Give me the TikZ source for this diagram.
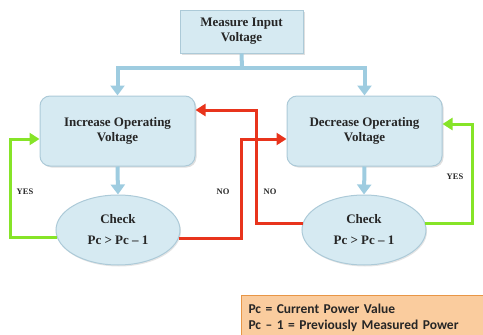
\documentclass[tikz,border=0pt]{standalone}
\usepackage{fontspec}
\setmainfont{Liberation Serif}
\newfontfamily\legendfont{Carlito}
\usepackage{tikz}
\usetikzlibrary{arrows.meta,shadows,shapes.geometric}

\definecolor{boxfill}{RGB}{214,234,242}
\definecolor{boxline}{RGB}{172,202,216}
\definecolor{flowblue}{RGB}{158,204,224}
\definecolor{nored}{RGB}{232,52,28}
\definecolor{yesgreen}{RGB}{134,228,40}
\definecolor{keyfill}{RGB}{250,204,158}
\definecolor{keyline}{RGB}{232,150,70}

\begin{document}
\begin{tikzpicture}[x=1pt, y=-1pt,
  every node/.style={font=\fontsize{13}{15}\selectfont\bfseries, text=black!85},
  stepbox/.style={draw=boxline, fill=boxfill, line width=1pt, align=center,
    drop shadow={shadow xshift=1.5pt, shadow yshift=-1.5pt, fill=black!25}},
  checkbox/.style={ellipse, draw=boxline, fill=boxfill, line width=1pt, align=center,
    minimum width=124pt, minimum height=70pt, inner sep=0pt,
    drop shadow={shadow xshift=1pt, shadow yshift=-1.5pt, fill=black!20}},
  flow/.style={draw=flowblue, line width=4pt},
  flowarr/.style={flow, -{Triangle[width=14pt, length=10pt]}},
  noarr/.style={draw=nored, line width=3pt, -{Triangle[width=12pt, length=10pt]}},
  yesarr/.style={draw=yesgreen, line width=3pt, -{Triangle[width=12pt, length=10pt]}},
  lbl/.style={font=\fontsize{8.5}{10}\selectfont\bfseries}]
  \useasboundingbox (0,0) rectangle (483,335);

  % 1) Boxes
  \node[stepbox, minimum width=123pt, minimum height=43pt] (measure) at (241.5,31.5) {Measure Input\\Voltage};
  \node[stepbox, rounded corners=10pt, minimum width=155pt, minimum height=70pt] (incr) at (117.5,131) {Increase Operating\\Voltage};
  \node[stepbox, rounded corners=10pt, minimum width=155pt, minimum height=70pt] (decr) at (364.5,131) {Decrease Operating\\Voltage};
  \node[checkbox] (chkinc) at (118,230) {Check\\[6pt]Pc > Pc – 1};
  \node[checkbox] (chkdec) at (364,230) {Check\\[6pt]Pc > Pc – 1};

  % 2) Blue flow
  \coordinate (split) at (242,68);
  \draw[flow] (measure.south) -- (split);
  \draw[flowarr] (split) -| (incr.north);
  \draw[flowarr] (split) -| (decr.north);
  \draw[flowarr] (incr.south) -- (chkinc.north);
  \draw[flowarr] (decr.south) -- (chkdec.north);

  % 3) Yes / no loops
  \coordinate (gl) at (10,139);
  \coordinate (r1) at (241,139);
  \coordinate (r2) at (256,110);
  \coordinate (gr) at (472,124);
  \draw[yesarr] (chkinc.187) -| (gl) -- (gl -| incr.west);
  \draw[noarr] (chkinc.-8) -| (r1) -- (r1 -| decr.west);
  \draw[noarr] (chkdec.174) -| (r2) -- (r2 -| incr.east);
  \draw[yesarr] (chkdec.6) -| (gr) -- (gr -| decr.east);

  \node[lbl] (yesl) at (25,192) {YES};
  \node[lbl] (nol) at (223,192) {NO};
  \node[lbl] (nor) at (270,192) {NO};
  \node[lbl] (yesr) at (455,177) {YES};

  % 4) Key
  \node[draw=keyline, fill=keyfill, line width=1pt, anchor=north west, align=left,
    minimum width=250pt, minimum height=45pt, text width=236pt, inner sep=7pt,
    font=\legendfont\fontsize{13.5}{15.5}\selectfont\bfseries] (key) at (241,295)
    {Pc = Current Power Value\\Pc – 1 = Previously Measured Power};
\end{tikzpicture}
\end{document}
